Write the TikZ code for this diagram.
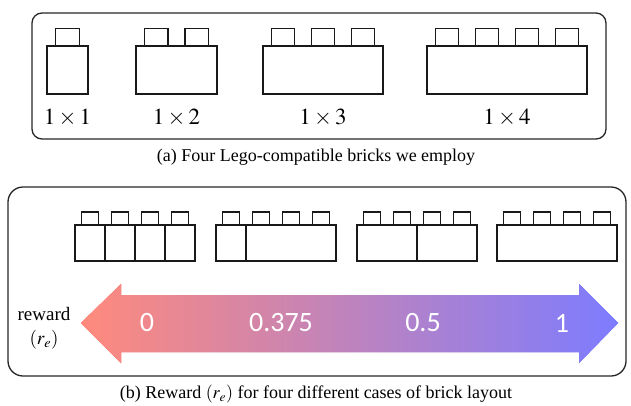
\documentclass[tikz,border=0pt]{standalone}
\usepackage{mathptmx}
\usepackage{fontspec}
\setmainfont{Liberation Serif}
\newfontfamily\numfont{Carlito}
\usepackage{tikz}
\usetikzlibrary{positioning}
\definecolor{rewardlo}{HTML}{FF8A7C}
\definecolor{rewardmid}{HTML}{D281C2}
\definecolor{rewardhi}{HTML}{7D7CFF}
\tikzset{
  panel/.style      = {draw=black!85, line width=1.3pt, rounded corners=10pt},
  brickline/.style  = {draw=black!90, line width=1.5pt, fill=white},
  sizelbl/.style    = {font=\fontsize{23}{26}\selectfont, inner sep=0pt},
  rewardlbl/.style  = {font=\numfont\fontsize{28}{30}\selectfont, text=white, inner sep=0pt},
  caption/.style    = {font=\fontsize{18}{20}\selectfont, inner sep=0pt},
  sidelbl/.style    = {font=\fontsize{19}{22}\selectfont, align=center, inner sep=0pt},
}
% left x, body top y, number of studs, unit width, body height
\newcommand{\legobrick}[5]{%
  \draw[brickline] (#1,#2) rectangle ++({#3*#4},#5);
  \foreach \k in {1,...,#3}
    \draw[brickline] ({#1+(\k-1)*#4+0.21*#4},#2) rectangle ++({0.58*#4},{-0.36*#5});
}
\begin{document}
\begin{tikzpicture}[x=1pt,y=-1pt]
  \useasboundingbox (0,0) rectangle (631,405);
  % (a) the four bricks
  \draw[panel] (32,13) rectangle (606,139);
  \legobrick{47}{46}{1}{41}{48}
  \legobrick{136}{46}{2}{40.5}{48}
  \legobrick{263}{46}{3}{40}{48}
  \legobrick{427}{46}{4}{40}{48}
  \node[sizelbl] (s1) at (67.5,118) {$1\times1$};
  \node[sizelbl] (s2) at (176.5,118) {$1\times2$};
  \node[sizelbl] (s3) at (323,118) {$1\times3$};
  \node[sizelbl] (s4) at (507,118) {$1\times4$};
  \node[caption] (capa) at (316,157) {(a) Four Lego-compatible bricks we employ};
  % (b) layouts and reward arrow
  \draw[panel, rounded corners=15pt] (8,187) rectangle (626,376);
  \foreach \x in {75,105,135,165} \legobrick{\x}{225}{1}{30}{36}
  \legobrick{216}{225}{1}{30}{36}
  \legobrick{246}{225}{3}{30}{36}
  \legobrick{357}{225}{2}{30}{36}
  \legobrick{417}{225}{2}{30}{36}
  \legobrick{497}{225}{4}{30}{36}
  \shade[left color=rewardlo, middle color=rewardmid, right color=rewardhi]
    (81,323) -- (121,284) -- (121,295) -- (579,295) -- (579,284) -- (618,323)
    -- (579,363) -- (579,352) -- (121,352) -- (121,363) -- cycle;
  \node[rewardlbl] (r0) at (147,323) {0};
  \node[rewardlbl] (r1) at (281,323) {0.375};
  \node[rewardlbl] (r2) at (423,323) {0.5};
  \node[rewardlbl] (r3) at (562,323) {1};
  \node[sidelbl] (rw) at (44,328) {reward\\[2pt]$(r_e)$};
  \node[caption] (capb) at (316,394) {(b) Reward $(r_e)$ for four different cases of brick layout};
\end{tikzpicture}
\end{document}
